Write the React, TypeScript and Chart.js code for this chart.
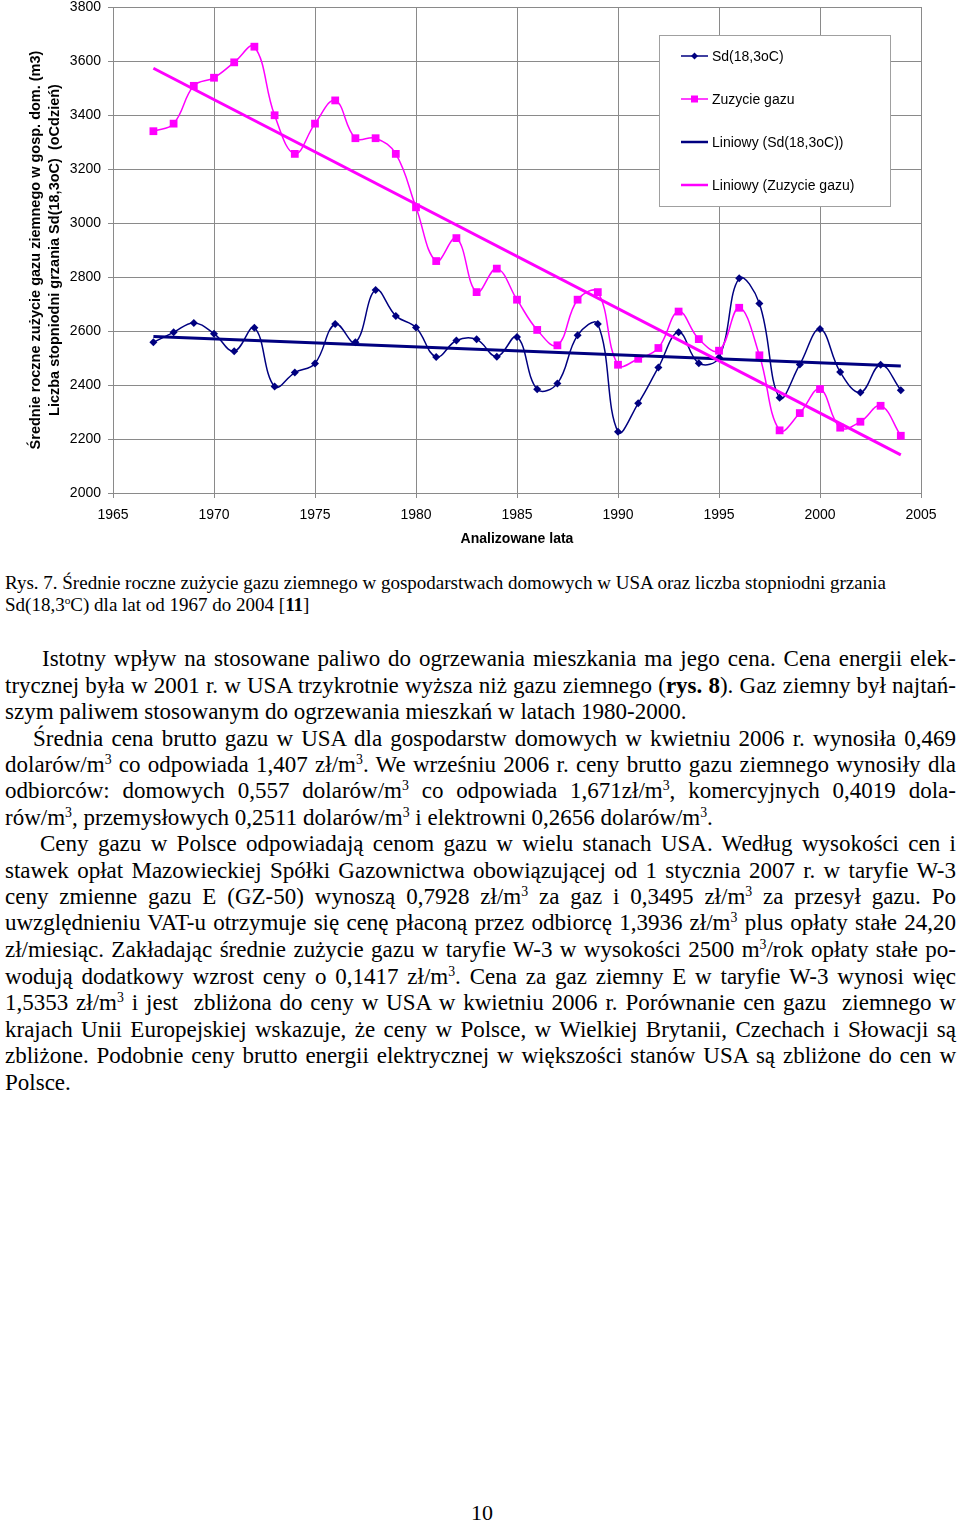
import React, { useEffect, useRef } from "react";
import { Chart, registerables } from "chart.js";

Chart.register(...registerables);

// ---- data ----
const years = [
  1967, 1968, 1969, 1970, 1971, 1972, 1973, 1974, 1975, 1976,
  1977, 1978, 1979, 1980, 1981, 1982, 1983, 1984, 1985, 1986,
  1987, 1988, 1989, 1990, 1991, 1992, 1993, 1994, 1995, 1996,
  1997, 1998, 1999, 2000, 2001, 2002, 2003, 2004,
];
const sdValues = [
  2558, 2595, 2630, 2590, 2525, 2612, 2394, 2446, 2480, 2626,
  2558, 2752, 2656, 2613, 2504, 2565, 2569, 2505, 2578, 2384,
  2406, 2584, 2626, 2227, 2332, 2465, 2595, 2481, 2502, 2795,
  2702, 2353, 2476, 2607, 2448, 2372, 2475, 2381,
];
const gasValues = [
  3340, 3368, 3508, 3538, 3595, 3653, 3399, 3256, 3368, 3454,
  3314, 3314, 3256, 3058, 2859, 2944, 2744, 2831, 2716, 2604,
  2547, 2716, 2744, 2475, 2497, 2537, 2672, 2570, 2527, 2686,
  2510, 2232, 2296, 2385, 2242, 2264, 2323, 2212,
];
const trendYears = [1967, 2004];
const sdTrend = [2580, 2470];
const gasTrend = [3573, 2141];

const xTickValues = [1965, 1970, 1975, 1980, 1985, 1990, 1995, 2000, 2005];
const yTickValues = [2000, 2200, 2400, 2600, 2800, 3000, 3200, 3400, 3600, 3800];

const seriesLabels = ["Sd(18,3oC)", "Zuzycie gazu", "Liniowy (Sd(18,3oC))", "Liniowy (Zuzycie gazu)"];
const yTitleLines = [
  "Średnie roczne zużycie gazu ziemnego w gosp. dom. (m3)",
  "Liczba stopniodni grzania Sd(18,3oC)  (oCdzień)",
];
const xTitle = "Analizowane lata";

const NAVY = "#000080";
const MAGENTA = "#FF00FF";
const GRID = "#8a8a8a";
const SANS = "'Liberation Sans', Arial, sans-serif";
const SERIF = "'Liberation Serif', 'Times New Roman', serif";

const legendPlugin = {
  id: "boxLegend",
  afterDraw(chart: any) {
    const ctx = chart.ctx;
    const bx = 659.5, by = 35.5, bw = 231, bh = 171;
    ctx.save();
    ctx.fillStyle = "#ffffff";
    ctx.fillRect(bx, by, bw, bh);
    ctx.strokeStyle = "#a0a0a0";
    ctx.lineWidth = 1;
    ctx.strokeRect(bx, by, bw, bh);
    const rows = [56, 99, 142, 185];
    const ds = chart.data.datasets;
    const legendOrder = [0, 1, 2, 3];
    legendOrder.forEach((k, i) => {
      const d = ds.find((q: any) => q.legendIndex === k);
      const y = rows[i];
      ctx.strokeStyle = d.borderColor;
      ctx.lineWidth = k < 2 ? 1.5 : 2.5;
      ctx.beginPath();
      ctx.moveTo(681, y);
      ctx.lineTo(708, y);
      ctx.stroke();
      if (k === 0) {
        ctx.fillStyle = d.borderColor;
        ctx.beginPath();
        ctx.moveTo(694.5, y - 3.5);
        ctx.lineTo(698, y);
        ctx.lineTo(694.5, y + 3.5);
        ctx.lineTo(691, y);
        ctx.closePath();
        ctx.fill();
      } else if (k === 1) {
        ctx.fillStyle = d.borderColor;
        ctx.fillRect(691, y - 3.5, 7, 7);
      }
      ctx.fillStyle = "#000";
      ctx.font = `14px ${SANS}`;
      ctx.textBaseline = "middle";
      ctx.textAlign = "left";
      ctx.fillText(d.label, 712, y + 1);
    });
    ctx.restore();
  },
};

function ChartBlock() {
  const ref = useRef<HTMLCanvasElement | null>(null);
  useEffect(() => {
    if (!ref.current) return;
    const pts = (xs: number[], ys: number[]) => xs.map((x, i) => ({ x, y: ys[i] }));
    const chart = new Chart(ref.current, {
      type: "line",
      data: {
        datasets: [
          {
            label: seriesLabels[0],
            legendIndex: 0,
            data: pts(years, sdValues),
            borderColor: NAVY,
            backgroundColor: NAVY,
            borderWidth: 1.5,
            pointStyle: "rectRot",
            pointRadius: 4,
            pointBorderWidth: 0,
            tension: 0.4,
            order: 3,
          } as any,
          {
            label: seriesLabels[1],
            legendIndex: 1,
            data: pts(years, gasValues),
            borderColor: MAGENTA,
            backgroundColor: MAGENTA,
            borderWidth: 1.5,
            pointStyle: "rect",
            pointRadius: 5.5,
            pointBorderWidth: 0,
            tension: 0.4,
            order: 2,
          } as any,
          {
            label: seriesLabels[2],
            legendIndex: 2,
            data: pts(trendYears, sdTrend),
            borderColor: NAVY,
            borderWidth: 3,
            pointRadius: 0,
            tension: 0,
            order: 1,
          } as any,
          {
            label: seriesLabels[3],
            legendIndex: 3,
            data: pts(trendYears, gasTrend),
            borderColor: MAGENTA,
            borderWidth: 3,
            pointRadius: 0,
            tension: 0,
            order: 0,
          } as any,
        ],
      },
      options: {
        animation: false,
        responsive: false,
        maintainAspectRatio: false,
        layout: { padding: { left: 0, right: 39, top: 7, bottom: 0 } },
        plugins: { legend: { display: false }, tooltip: { enabled: false } },
        scales: {
          x: {
            type: "linear",
            min: xTickValues[0],
            max: xTickValues[xTickValues.length - 1],
            afterBuildTicks: (s: any) => {
              s.ticks = xTickValues.map((v) => ({ value: v }));
            },
            afterFit: (s: any) => {
              s.height = 62;
            },
            ticks: {
              color: "#000",
              font: { family: SANS, size: 14 },
              padding: 9,
              maxRotation: 0,
              autoSkip: false,
              callback: (v: any) => String(v),
            },
            grid: { color: GRID, lineWidth: 1, tickLength: 5, tickColor: GRID },
            border: { color: GRID, width: 1 },
            title: {
              display: true,
              text: xTitle,
              color: "#000",
              font: { family: SANS, size: 14, weight: "bold", lineHeight: 1.2 },
              padding: { top: 0, bottom: 7.6 },
            },
          },
          y: {
            type: "linear",
            min: yTickValues[0],
            max: yTickValues[yTickValues.length - 1],
            afterBuildTicks: (s: any) => {
              s.ticks = yTickValues.map((v) => ({ value: v }));
            },
            afterFit: (s: any) => {
              s.width = 113;
              s.paddingTop = 0;
              s.paddingBottom = 0;
            },
            ticks: {
              color: "#000",
              font: { family: SANS, size: 14, lineHeight: 1 },
              padding: 7,
              autoSkip: false,
              callback: (v: any) => String(v),
            },
            grid: { color: GRID, lineWidth: 1, tickLength: 5, tickColor: GRID },
            border: { color: GRID, width: 1 },
            title: {
              display: true,
              text: yTitleLines,
              color: "#000",
              font: { family: SANS, size: 14.5, weight: "bold", lineHeight: 1.32 },
              padding: { top: 26.5, bottom: 0 },
            },
          },
        },
      },
      plugins: [legendPlugin],
    } as any);
    return () => chart.destroy();
  }, []);
  return (
    <canvas
      ref={ref}
      width={960}
      height={555}
      style={{ position: "absolute", left: 0, top: 0, width: 960, height: 555 }}
    />
  );
}

const sup = (t: string) => (
  <sup style={{ fontSize: "0.6em", verticalAlign: "0.6em", lineHeight: 0 }}>{t}</sup>
);

type Line = { y: number; left: number; last?: boolean; content: React.ReactNode };

const bodyLines: Line[] = [
  { y: 659, left: 42, content: <>Istotny wpływ na stosowane paliwo do ogrzewania mieszkania ma jego cena. Cena energii elek-</> },
  { y: 686, left: 5, content: <>trycznej była w 2001 r. w USA trzykrotnie wyższa niż gazu ziemnego (<b>rys. 8</b>). Gaz ziemny był najtań-</> },
  { y: 712, left: 5, last: true, content: <>szym paliwem stosowanym do ogrzewania mieszkań w latach 1980-2000.</> },
  { y: 739, left: 33, content: <>Średnia cena brutto gazu w USA dla gospodarstw domowych w kwietniu 2006 r. wynosiła 0,469</> },
  { y: 765, left: 5, content: <>dolarów/m{sup("3")} co odpowiada 1,407 zł/m{sup("3")}. We wrześniu 2006 r. ceny brutto gazu ziemnego wynosiły dla</> },
  { y: 791, left: 5, content: <>odbiorców: domowych 0,557 dolarów/m{sup("3")} co odpowiada 1,671zł/m{sup("3")}, komercyjnych 0,4019 dola-</> },
  { y: 818, left: 5, last: true, content: <>rów/m{sup("3")}, przemysłowych 0,2511 dolarów/m{sup("3")} i elektrowni 0,2656 dolarów/m{sup("3")}.</> },
  { y: 844, left: 40, content: <>Ceny gazu w Polsce odpowiadają cenom gazu w wielu stanach USA. Według wysokości cen i</> },
  { y: 871, left: 5, content: <>stawek opłat Mazowieckiej Spółki Gazownictwa obowiązującej od 1 stycznia 2007 r. w taryfie W-3</> },
  { y: 897, left: 5, content: <>ceny zmienne gazu E (GZ-50) wynoszą 0,7928 zł/m{sup("3")} za gaz i 0,3495 zł/m{sup("3")} za przesył gazu. Po</> },
  { y: 923, left: 5, content: <>uwzględnieniu VAT-u otrzymuje się cenę płaconą przez odbiorcę 1,3936 zł/m{sup("3")} plus opłaty stałe 24,20</> },
  { y: 950, left: 5, content: <>zł/miesiąc. Zakładając średnie zużycie gazu w taryfie W-3 w wysokości 2500 m{sup("3")}/rok opłaty stałe po-</> },
  { y: 977, left: 5, content: <>wodują dodatkowy wzrost ceny o 0,1417 zł/m{sup("3")}. Cena za gaz ziemny E w taryfie W-3 wynosi więc</> },
  { y: 1003, left: 5, content: <>1,5353 zł/m{sup("3")} i jest  zbliżona do ceny w USA w kwietniu 2006 r. Porównanie cen gazu  ziemnego w</> },
  { y: 1030, left: 5, content: <>krajach Unii Europejskiej wskazuje, że ceny w Polsce, w Wielkiej Brytanii, Czechach i Słowacji są</> },
  { y: 1056, left: 5, content: <>zbliżone. Podobnie ceny brutto energii elektrycznej w większości stanów USA są zbliżone do cen w</> },
  { y: 1083, left: 5, last: true, content: <>Polsce.</> },
];

export default function App() {
  useEffect(() => {
    document.body.style.margin = "0";
  }, []);
  const RIGHT = 956;
  return (
    <div style={{ position: "relative", width: 960, height: 1525, background: "#fff", fontFamily: SERIF }}>
      <ChartBlock />
      <div
        style={{
          position: "absolute",
          left: 5,
          top: 572,
          width: 877,
          fontSize: 19,
          lineHeight: "22px",
          whiteSpace: "nowrap",
          textAlign: "justify",
          textAlignLast: "justify" as any,
        }}
      >
        Rys. 7. Średnie roczne zużycie gazu ziemnego w gospodarstwach domowych w USA oraz liczba stopniodni grzania
      </div>
      <div
        style={{ position: "absolute", left: 5, top: 594, fontSize: 19, lineHeight: "22px", whiteSpace: "nowrap" }}
      >
        Sd(18,3{sup("o")}C) dla lat od 1967 do 2004 [<b>11</b>]
      </div>
      {bodyLines.map((l, i) => (
        <div
          key={i}
          style={{
            position: "absolute",
            left: l.left,
            top: l.y - 13,
            width: RIGHT - l.left,
            fontSize: 23,
            lineHeight: "26px",
            whiteSpace: "pre",
            textAlign: l.last ? "left" : "justify",
            textAlignLast: (l.last ? "left" : "justify") as any,
          }}
        >
          {l.content}
        </div>
      ))}
      <div
        style={{ position: "absolute", left: 0, width: 960, top: 1500, textAlign: "center", fontSize: 22, lineHeight: "26px", paddingLeft: 2 }}
      >
        10
      </div>
    </div>
  );
}
